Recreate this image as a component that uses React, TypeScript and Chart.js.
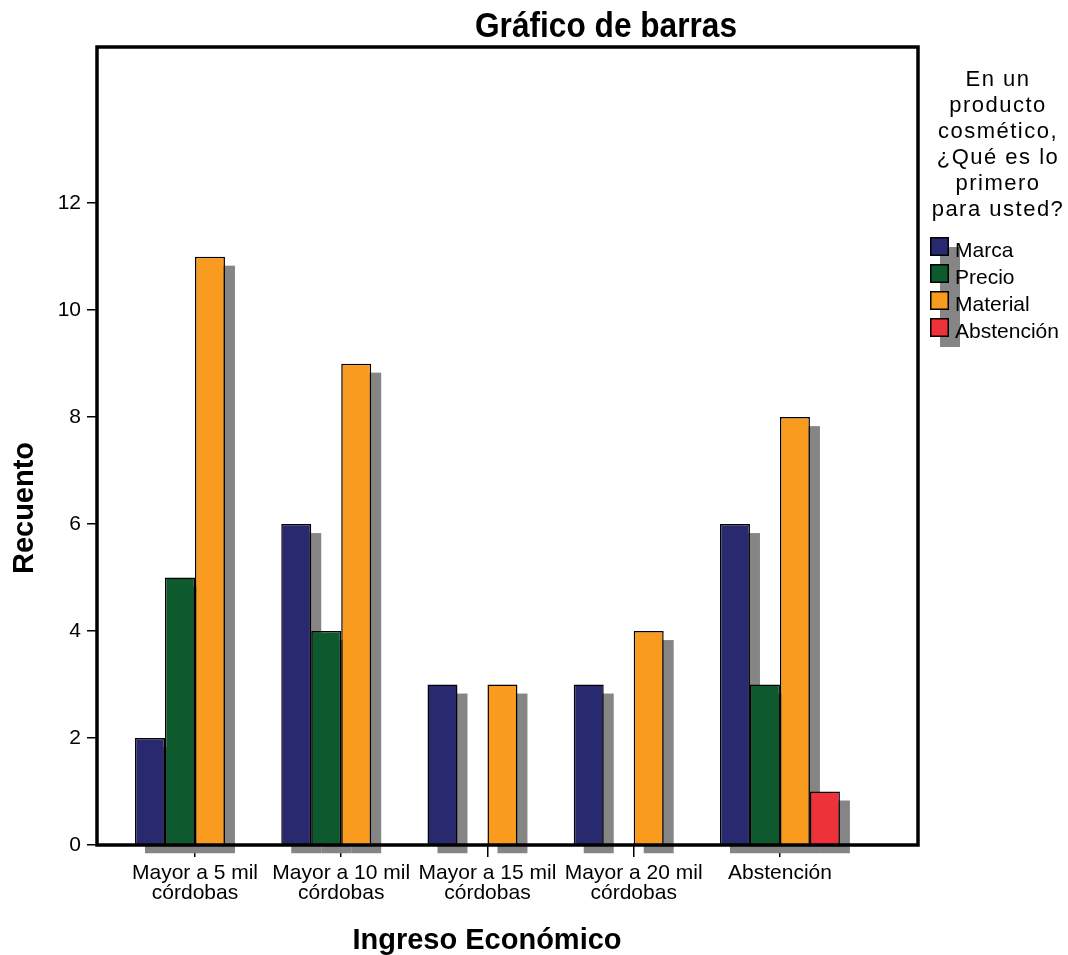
import React, { useEffect, useRef } from 'react';
import { Chart, registerables } from 'chart.js';

Chart.register(...registerables);

const categories: string[][] = [
  ['Mayor a 5 mil', 'córdobas'],
  ['Mayor a 10 mil', 'córdobas'],
  ['Mayor a 15 mil', 'córdobas'],
  ['Mayor a 20 mil', 'córdobas'],
  ['Abstención'],
];
const seriesNames = ['Marca', 'Precio', 'Material', 'Abstención'];
const marca = [2, 6, 3, 3, 6];
const precio = [5, 4, 0, 0, 3];
const material = [11, 9, 3, 4, 8];
const abstencion = [0, 0, 0, 0, 1];
const seriesValues = [marca, precio, material, abstencion];
const seriesColors = ['#29296f', '#0c5a2d', '#f89b1f', '#ee3239'];
const yTicks = [0, 2, 4, 6, 8, 10, 12];
const chartTitle = 'Gráfico de barras';
const xTitle = 'Ingreso Económico';
const yTitle = 'Recuento';
const legendTitle = ['En un', 'producto', 'cosmético,', '¿Qué es lo', 'primero', 'para usted?'];

const FONT = '"Liberation Sans", Arial, sans-serif';
const SHADOW = '#858585';

const shadowPlugin = {
  id: 'barShadow',
  beforeDatasetsDraw(chart: any) {
    const ctx = chart.ctx;
    ctx.save();
    ctx.fillStyle = SHADOW;
    chart.data.datasets.forEach((_ds: any, di: number) => {
      const meta = chart.getDatasetMeta(di);
      meta.data.forEach((el: any, i: number) => {
        if (!seriesValues[di][i]) return;
        const p = el.getProps(['x', 'y', 'base', 'width'], true);
        ctx.fillRect(p.x - p.width / 2 + 10, p.y + 9, p.width, p.base - p.y);
      });
    });
    ctx.restore();
  },
};

const decorPlugin = {
  id: 'decor',
  afterDraw(chart: any) {
    const ctx = chart.ctx;
    const a = chart.chartArea;
    ctx.save();
    // frame
    ctx.strokeStyle = '#000';
    ctx.lineWidth = 3.5;
    ctx.strokeRect(a.left, a.top, a.right - a.left, a.bottom - a.top);

    ctx.fillStyle = '#000';
    ctx.textAlign = 'center';
    ctx.textBaseline = 'alphabetic';

    // title (condensed)
    ctx.save();
    ctx.font = `bold 35px ${FONT}`;
    const tw = ctx.measureText(chartTitle).width;
    const sx = 262 / tw;
    ctx.translate(606, 37);
    ctx.scale(sx, 1);
    ctx.fillText(chartTitle, 0, 0);
    ctx.restore();

    // x title
    ctx.font = `bold 29px ${FONT}`;
    ctx.fillText(xTitle, 487, 949);

    // y title
    ctx.save();
    ctx.translate(33, 508);
    ctx.rotate(-Math.PI / 2);
    ctx.font = `bold 29px ${FONT}`;
    ctx.fillText(yTitle, 0, 0);
    ctx.restore();

    // legend title
    ctx.save();
    ctx.font = `22px ${FONT}`;
    (ctx as any).letterSpacing = '1.5px';
    legendTitle.forEach((line, i) => {
      ctx.fillText(line, 998, 86 + i * 26);
    });
    ctx.restore();

    // legend items
    const lx = 930;
    const ly = 237;
    const step = 27;
    const size = 19;
    const n = chart.data.datasets.length;
    ctx.fillStyle = SHADOW;
    ctx.fillRect(lx + 10, ly + 10, size + 1, (n - 1) * step + size);
    chart.data.datasets.forEach((ds: any, k: number) => {
      const y = ly + k * step;
      ctx.fillStyle = ds.backgroundColor;
      ctx.fillRect(lx, y, size, size);
      ctx.strokeStyle = '#000';
      ctx.lineWidth = 1.5;
      ctx.strokeRect(lx + 0.75, y + 0.75, size - 1.5, size - 1.5);
      ctx.fillStyle = '#000';
      ctx.font = `21px ${FONT}`;
      ctx.textAlign = 'left';
      ctx.textBaseline = 'alphabetic';
      ctx.fillText(ds.label, 955, y + 20);
    });
    ctx.restore();
  },
};

export default function App() {
  const canvasRef = useRef<HTMLCanvasElement | null>(null);

  useEffect(() => {
    const canvas = canvasRef.current;
    if (!canvas) return;
    const chart = new Chart(canvas, {
      type: 'bar',
      data: {
        datasets: seriesValues.map((vals, k) => ({
          label: seriesNames[k],
          data: vals.map((v, i) => ({ x: i, y: v })),
          backgroundColor: seriesColors[k],
          borderColor: '#000',
          borderWidth: 1.5,
          categoryPercentage: 0.82,
          barPercentage: 1,
        })),
      },
      options: {
        animation: false,
        responsive: true,
        maintainAspectRatio: false,
        layout: { padding: { top: 47, right: 150, bottom: 0, left: 0 } },
        plugins: {
          legend: { display: false },
          title: { display: false },
          tooltip: { enabled: false },
        },
        scales: {
          x: {
            type: 'linear',
            min: -0.67,
            max: 4.944,
            bounds: 'data',
            offset: false,
            afterBuildTicks: (s: any) => {
              s.ticks = categories.map((_c, i) => ({ value: i }));
            },
            afterFit: (s: any) => {
              s.height = 110;
            },
            grid: {
              offset: false,
              drawOnChartArea: false,
              drawTicks: true,
              tickLength: 12,
              color: '#000',
              lineWidth: 1.5,
            },
            border: { display: false },
            ticks: {
              autoSkip: false,
              maxRotation: 0,
              minRotation: 0,
              padding: 6,
              color: '#000',
              font: { family: FONT, size: 21, lineHeight: 0.95 },
              callback: (v: any) => categories[Math.round(Number(v))] ?? '',
            },
          },
          y: {
            min: 0,
            max: 14.92,
            afterBuildTicks: (s: any) => {
              s.ticks = yTicks.map((v) => ({ value: v }));
            },
            afterFit: (s: any) => {
              s.width = 97;
            },
            grid: { drawOnChartArea: false, drawTicks: true, tickLength: 10, color: '#000', lineWidth: 1.5 },
            border: { display: false },
            ticks: {
              padding: 6,
              color: '#000',
              font: { family: FONT, size: 21 },
            },
          },
        },
      } as any,
      plugins: [shadowPlugin, decorPlugin],
    });
    return () => chart.destroy();
  }, []);

  return (
    <div style={{ position: 'absolute', left: 0, top: 0, width: 1068, height: 955, background: '#fff' }}>
      <canvas ref={canvasRef} />
    </div>
  );
}
